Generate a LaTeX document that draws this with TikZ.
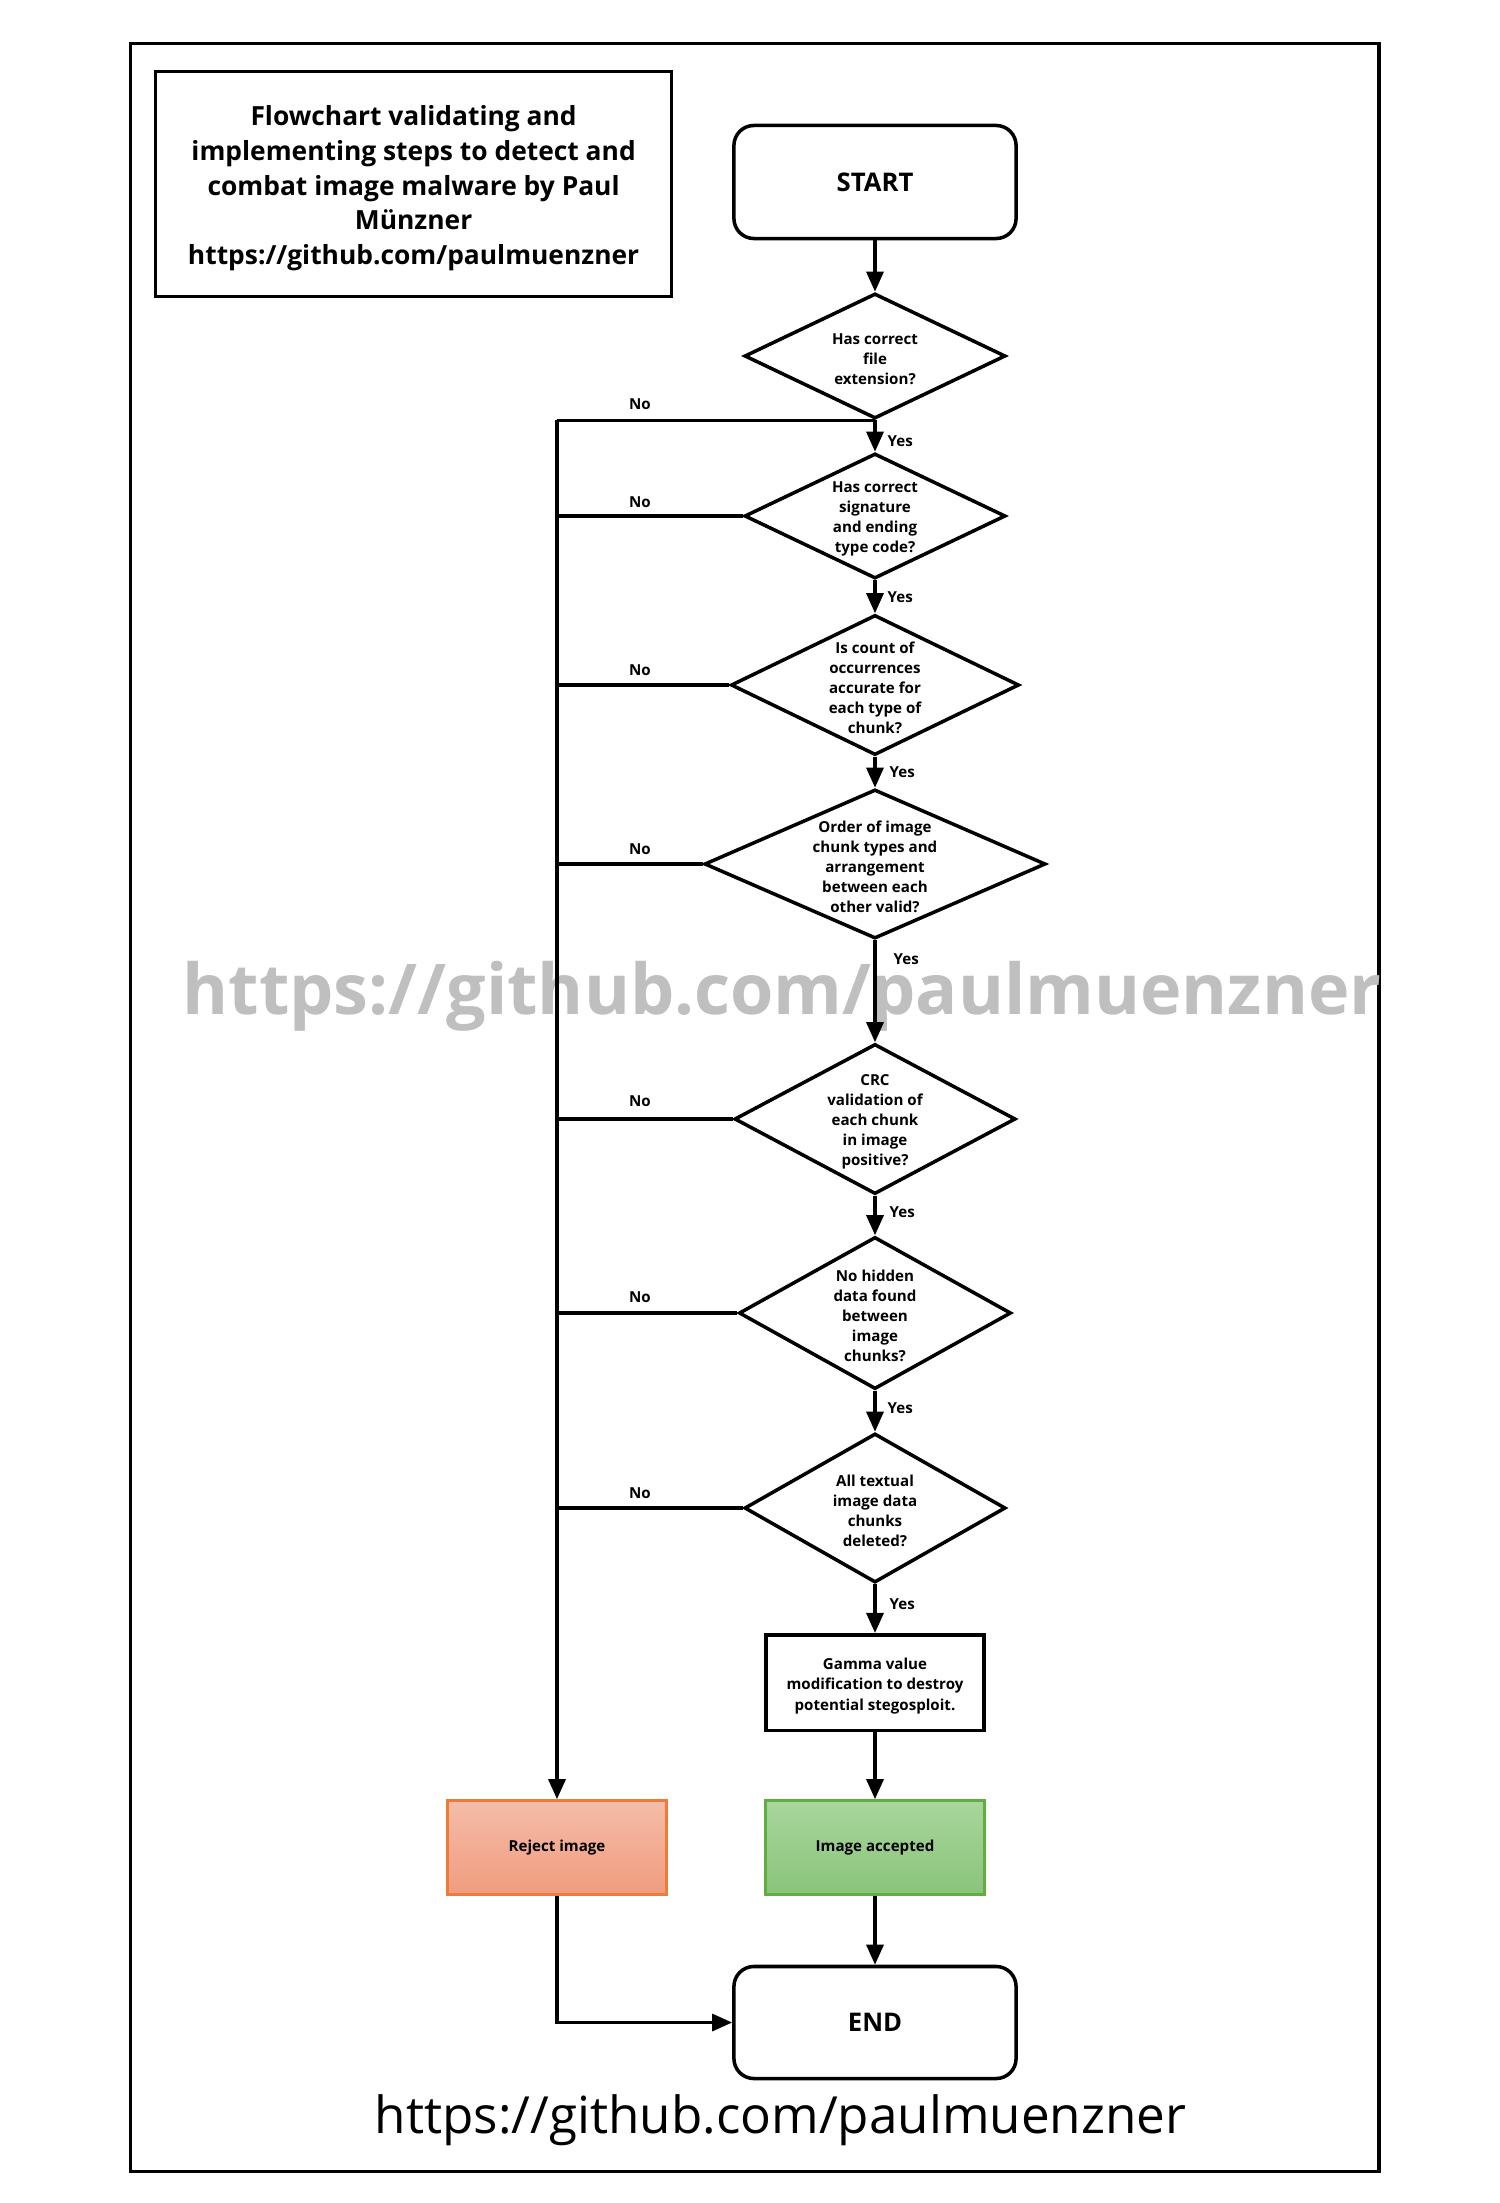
\documentclass[tikz,border=0pt]{standalone}
\usepackage{fontspec}
\setmainfont{Open Sans}
\usetikzlibrary{shapes.geometric,arrows.meta}
\definecolor{wmgray}{HTML}{BFBFBF}
\definecolor{rjtop}{HTML}{F5BCA9}
\definecolor{rjbot}{HTML}{F09C7E}
\definecolor{rjline}{HTML}{EE7B38}
\definecolor{actop}{HTML}{A9D69C}
\definecolor{acbot}{HTML}{89C47A}
\definecolor{acline}{HTML}{62AD40}
\begin{document}
\begin{tikzpicture}[x=0.01cm,y=-0.01cm,
  shp/.style={draw, line width=1pt, inner sep=0pt},
  dia/.style={shp, diamond},
  dtext/.style={align=center, inner sep=0pt, yshift=-0.03cm, font=\bfseries\fontsize{4.3}{5.7}\selectfont},
  term/.style={shp, rectangle, rounded corners=0.2cm, minimum width=2.82cm, minimum height=1.13cm, font=\bfseries\fontsize{7.3}{9}\selectfont},
  lbl/.style={inner sep=0pt, font=\bfseries\fontsize{4.3}{5.5}\selectfont},
  conn/.style={line width=0.9pt},
  arr/.style={conn, -{Triangle[length=0.2cm, width=0.17cm]}},
  endbox/.style={rectangle, line width=0.8pt, minimum width=2.19cm, minimum height=0.94cm, font=\bfseries\fontsize{4.3}{5.7}\selectfont}
]
\useasboundingbox (0,0) rectangle (1500,2203);
% outer frame
\draw[line width=1pt] (130.6,43.5) rectangle (1379.2,2171.3);
% watermark
\node[anchor=base west, inner sep=0pt, text=wmgray] (wm) at (182,1014)
  {\resizebox{11.98cm}{!}{\bfseries https://github.com/paulmuenzner}};
% title
\node[shp, rectangle, minimum width=5.155cm, minimum height=2.25cm] (title) at (413.6,184) {};
\node[align=center, inner sep=0pt, yshift=-0.042cm,
      font=\bfseries\fontsize{7.5}{9.93}\selectfont] (titlet) at (title.center)
  {Flowchart validating and\\implementing steps to detect and\\combat image malware by Paul\\Münzner\\https://github.com/paulmuenzner};
% start
\node[term] (start) at (875,182) {\raisebox{-0.02cm}{START}};
% diamonds
\node[dia, minimum width=2.61cm, minimum height=1.25cm] (d1) at (875,356) {};
\node[dtext] (d1t) at (d1.center) {Has correct\\file\\extension?};
\node[dia, minimum width=2.61cm, minimum height=1.25cm] (d2) at (875,516) {};
\node[dtext] (d2t) at (d2.center) {Has correct\\signature\\and ending\\type code?};
\node[dia, minimum width=2.88cm, minimum height=1.40cm] (d3) at (875,685) {};
\node[dtext] (d3t) at (d3.center) {Is count of\\occurrences\\accurate for\\each type of\\chunk?};
\node[dia, minimum width=3.41cm, minimum height=1.49cm] (d4) at (875,864) {};
\node[dtext] (d4t) at (d4.center) {Order of image\\chunk types and\\arrangement\\between each\\other valid?};
\node[dia, minimum width=2.81cm, minimum height=1.50cm] (d5) at (875,1119) {};
\node[dtext] (d5t) at (d5.center) {CRC\\validation of\\each chunk\\in image\\positive?};
\node[dia, minimum width=2.72cm, minimum height=1.52cm] (d6) at (875,1313) {};
\node[dtext] (d6t) at (d6.center) {No hidden\\data found\\between\\image\\chunks?};
\node[dia, minimum width=2.61cm, minimum height=1.49cm] (d7) at (875,1508) {};
\node[dtext] (d7t) at (d7.center) {All textual\\image data\\chunks\\deleted?};
% gamma
\node[shp, rectangle, minimum width=2.18cm, minimum height=0.955cm] (gam) at (875,1682.5) {};
\node[dtext, yshift=-0.005cm, font=\bfseries\fontsize{4.3}{5.75}\selectfont] (gamt) at (gam.center)
  {Gamma value\\modification to destroy\\potential stegosploit.};
% results
\node[endbox, draw=rjline, top color=rjtop, bottom color=rjbot] (rj) at (557,1847.6) {\raisebox{-0.025cm}{Reject image}};
\node[endbox, draw=acline, top color=actop, bottom color=acbot] (acc) at (875,1847.6) {\raisebox{-0.025cm}{Image accepted}};
% end
\node[term, minimum height=1.12cm] (end) at (875,2022.5) {\raisebox{-0.02cm}{END}};
% yes connectors
\draw[arr] (start.south) -- (d1.north);
\draw[arr] (d1.south) -- (d2.north);
\draw[arr] (d2.south) -- (d3.north);
\draw[arr] (d3.south) -- (d4.north);
\draw[arr] (d4.south) -- (d5.north);
\draw[arr] (d5.south) -- (d6.north);
\draw[arr] (d6.south) -- (d7.north);
\draw[arr] (d7.south) -- (gam.north);
\draw[arr] (gam.south) -- (acc.north);
\draw[arr] (acc.south) -- (end.north);
% no connectors
\draw[conn] (d1.south) -- (d1.south -| rj);
\draw[conn] (d2.west) -- (d2.west -| rj);
\draw[conn] (d3.west) -- (d3.west -| rj);
\draw[conn] (d4.west) -- (d4.west -| rj);
\draw[conn] (d5.west) -- (d5.west -| rj);
\draw[conn] (d6.west) -- (d6.west -| rj);
\draw[conn] (d7.west) -- (d7.west -| rj);
\draw[arr] (d1.south -| rj) -- (rj.north);
\draw[arr] (rj.south) |- (end.west);
% labels
\node[lbl] (n1) at (640,404) {No};
\node[lbl] (n2) at (640,502.5) {No};
\node[lbl] (n3) at (640,670.5) {No};
\node[lbl] (n4) at (640,849.5) {No};
\node[lbl] (n5) at (640,1101.5) {No};
\node[lbl] (n6) at (640,1297.5) {No};
\node[lbl] (n7) at (640,1493.5) {No};
\node[lbl, anchor=west] (y1) at (887,441) {Yes};
\node[lbl, anchor=west] (y2) at (887,597) {Yes};
\node[lbl, anchor=west] (y3) at (889,772.5) {Yes};
\node[lbl, anchor=west] (y4) at (893,959.5) {Yes};
\node[lbl, anchor=west] (y5) at (889,1212) {Yes};
\node[lbl, anchor=west] (y6) at (887,1408.5) {Yes};
\node[lbl, anchor=west] (y7) at (889,1604) {Yes};
% bottom url
\node[anchor=base west, inner sep=0pt] (url) at (374,2133)
  {\resizebox{8.11cm}{!}{https://github.com/paulmuenzner}};
\end{tikzpicture}
\end{document}
